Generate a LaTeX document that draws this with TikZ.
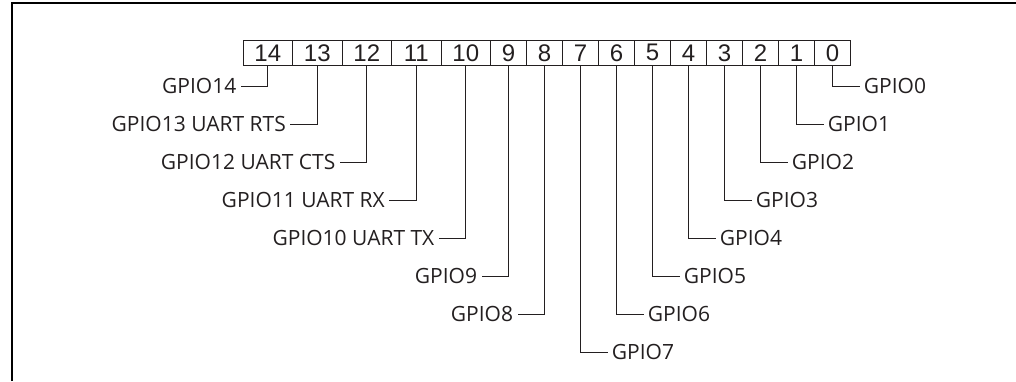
\documentclass[tikz,border=0pt]{standalone}
\usepackage{fontspec}
\setmainfont{Open Sans}
\newfontfamily\digitfont{Liberation Sans}
\usetikzlibrary{positioning}
\definecolor{ink}{RGB}{35,31,32}
\tikzset{
    bitbox/.style={
        draw=ink,
        line width=0.5pt,
        minimum height=12.75pt,
        inner sep=0pt,
        outer sep=0pt,
        text=ink,
        font=\digitfont\fontsize{12}{12}\selectfont
    },
    widebit/.style={bitbox, minimum width=24.75pt},
    narrowbit/.style={bitbox, minimum width=18pt},
    pinleft/.style={anchor=east, inner sep=2pt, text=ink},
    pinright/.style={anchor=west, inner sep=2pt, text=ink},
    lead/.style={draw=ink, line width=0.5pt},
    every node/.style={font=\fontsize{10.5}{12}\selectfont}
}

\begin{document}
\begin{tikzpicture}[x=0.5pt, y=-0.5pt]
\useasboundingbox (0,0) rectangle (1016,381);
% frame
\draw[line width=1pt] (12,381) -- (12,3) -- (1016,3);

% register bits
\node[widebit, anchor=west] (b14) at (243,52.75) {14};
\node[widebit, right=0pt of b14] (b13) {13};
\node[widebit, right=0pt of b13] (b12) {12};
\node[widebit, right=0pt of b12] (b11) {11};
\node[widebit, right=0pt of b11] (b10) {10};
\node[narrowbit, right=0pt of b10] (b9) {9};
\node[narrowbit, right=0pt of b9] (b8) {8};
\node[narrowbit, right=0pt of b8] (b7) {7};
\node[narrowbit, right=0pt of b7] (b6) {6};
\node[narrowbit, right=0pt of b6] (b5) {5};
\node[narrowbit, right=0pt of b5] (b4) {4};
\node[narrowbit, right=0pt of b4] (b3) {3};
\node[narrowbit, right=0pt of b3] (b2) {2};
\node[narrowbit, right=0pt of b2] (b1) {1};
\node[narrowbit, right=0pt of b1] (b0) {0};

% pin names, left side
\node[pinleft] (g14) at (240.75,86) {GPIO14};
\node[pinleft] (g13) at (290.25,124) {GPIO13 UART RTS};
\node[pinleft] (g12) at (339.75,162) {GPIO12 UART CTS};
\node[pinleft] (g11) at (389.25,200) {GPIO11 UART RX};
\node[pinleft] (g10) at (438.75,238) {GPIO10 UART TX};
\node[pinleft] (g9) at (481.5,276) {GPIO9};
\node[pinleft] (g8) at (517.5,314) {GPIO8};

% pin names, right side
\node[pinright] (g7) at (607.5,352) {GPIO7};
\node[pinright] (g6) at (643.5,314) {GPIO6};
\node[pinright] (g5) at (679.5,276) {GPIO5};
\node[pinright] (g4) at (715.5,238) {GPIO4};
\node[pinright] (g3) at (751.5,200) {GPIO3};
\node[pinright] (g2) at (787.5,162) {GPIO2};
\node[pinright] (g1) at (823.5,124) {GPIO1};
\node[pinright] (g0) at (859.5,86) {GPIO0};

% leads
\draw[lead] (b14) |- (g14);
\draw[lead] (b13) |- (g13);
\draw[lead] (b12) |- (g12);
\draw[lead] (b11) |- (g11);
\draw[lead] (b10) |- (g10);
\draw[lead] (b9) |- (g9);
\draw[lead] (b8) |- (g8);
\draw[lead] (b7) |- (g7);
\draw[lead] (b6) |- (g6);
\draw[lead] (b5) |- (g5);
\draw[lead] (b4) |- (g4);
\draw[lead] (b3) |- (g3);
\draw[lead] (b2) |- (g2);
\draw[lead] (b1) |- (g1);
\draw[lead] (b0) |- (g0);
\end{tikzpicture}
\end{document}
